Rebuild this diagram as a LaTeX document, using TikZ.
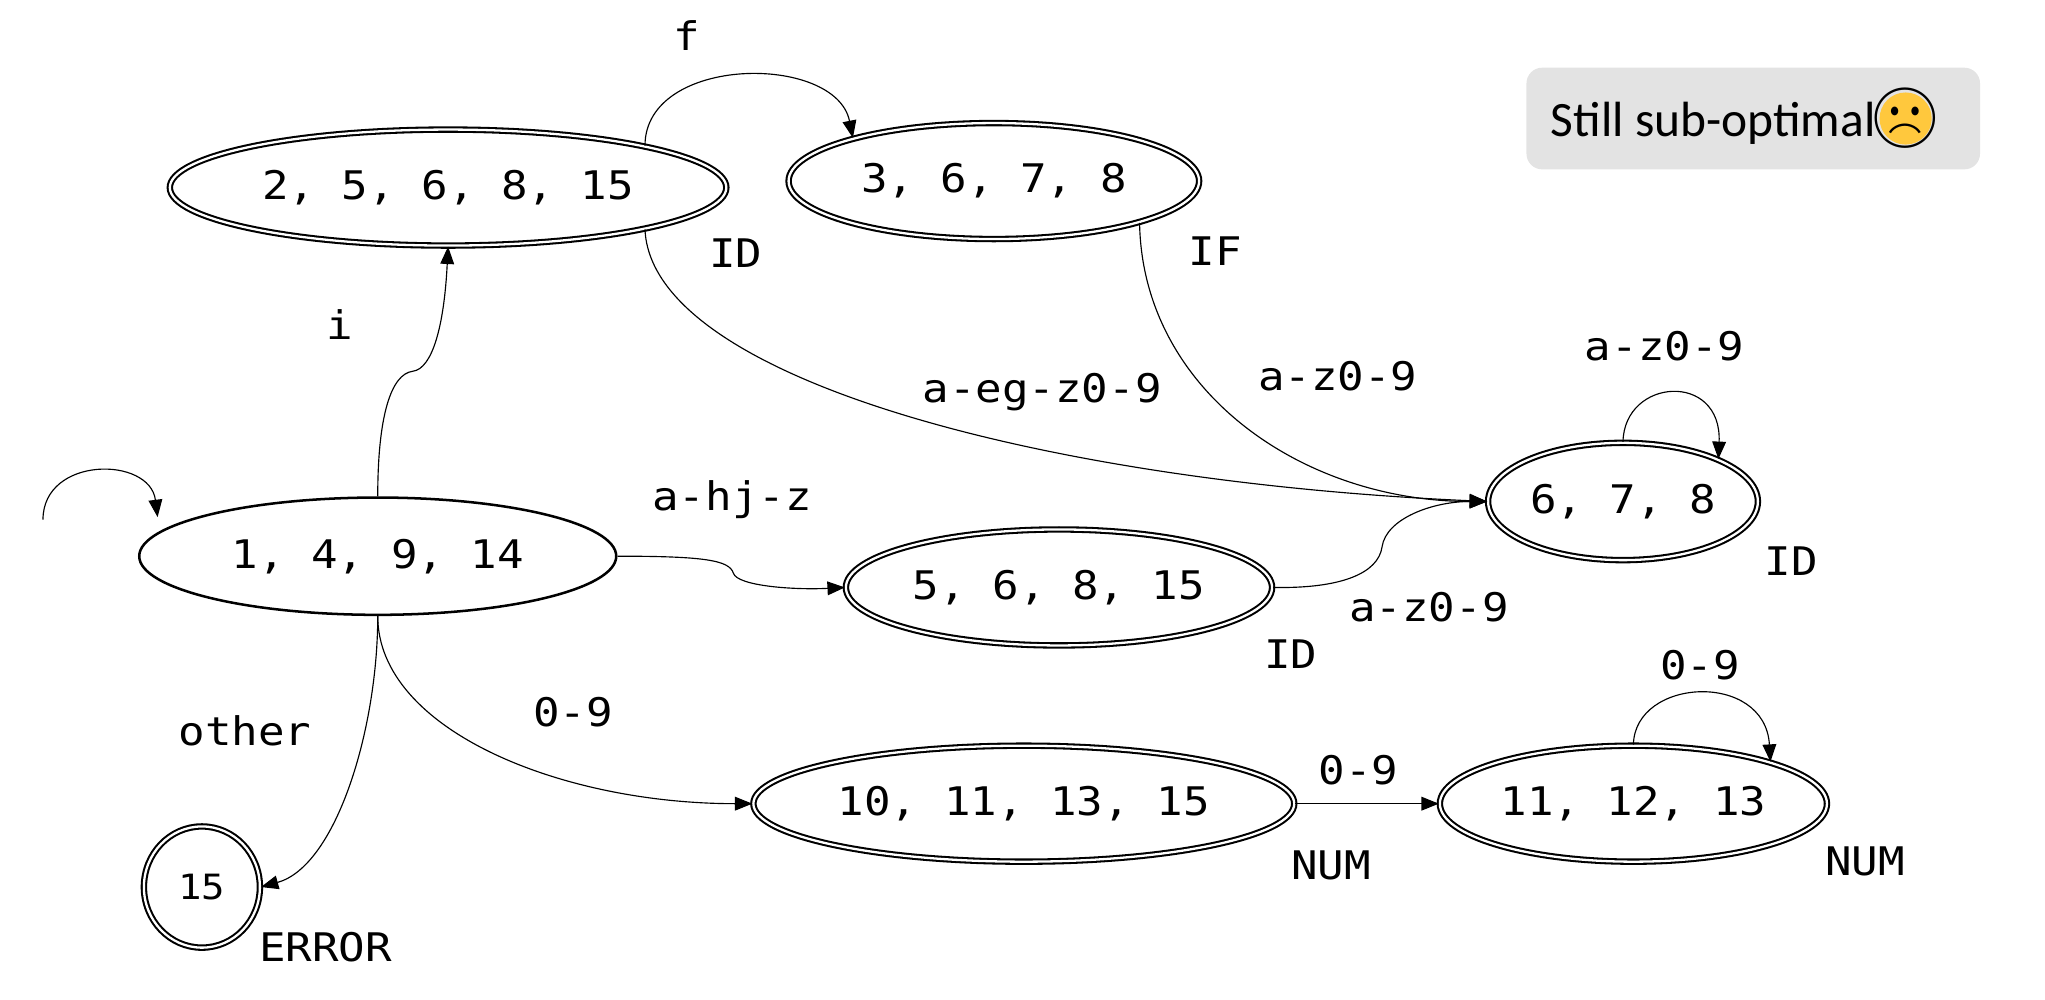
\documentclass[tikz,border=0pt]{standalone}
\usepackage{fontspec}
\setmainfont{Carlito}
\setmonofont[FakeStretch=1.12]{DejaVu Sans Mono}
\newfontfamily\emojifont{Noto Emoji}
\usetikzlibrary{shapes.geometric,arrows.meta}
\definecolor{notegray}{HTML}{E3E3E3}
\definecolor{emojiyellow}{HTML}{FFC83D}
\begin{document}
\begin{tikzpicture}[x=0.01cm,y=-0.01cm,
  statefont/.style={font=\ttfamily\fontsize{8.6}{10}\selectfont},
  state/.style={ellipse, draw, line width=0.45pt, inner sep=0pt, statefont},
  accept/.style={state, double, double distance=0.5pt},
  lbl/.style={statefont, inner sep=0pt, text height=6.27pt, text depth=0pt},
  edge/.style={line width=0.25pt, -{Triangle[length=3.8pt,width=3pt]}}]
\useasboundingbox (0,0) rectangle (1570,767);

% states
\node[accept, minimum width=4.27cm, minimum height=0.89cm] (A) at (344,144) {2, 5, 6, 8, 15};
\node[accept, minimum width=3.15cm, minimum height=0.89cm] (B) at (763,139) {3, 6, 7, 8};
\node[accept, minimum width=2.07cm, minimum height=0.90cm] (C) at (1246,385) {6, 7, 8};
\node[state, line width=0.55pt, minimum width=3.66cm, minimum height=0.90cm] (S) at (290,427) {1, 4, 9, 14};
\node[accept, minimum width=3.27cm, minimum height=0.89cm] (D) at (813,451) {5, 6, 8, 15};
\node[accept, minimum width=4.15cm, minimum height=0.89cm] (E) at (786,617) {10, 11, 13, 15};
\node[accept, minimum width=2.97cm, minimum height=0.89cm] (F) at (1254,617) {11, 12, 13};
\node[accept, minimum width=0.89cm, minimum height=0.93cm, font=\ttfamily\fontsize{7.6}{9}\selectfont] (G) at (155,681) {15};

% note box
\node[fill=notegray, rounded corners=0.12cm, minimum width=3.48cm, minimum height=0.78cm, inner sep=0pt] (notebox) at (1346,91) {};
\node[anchor=base west, font=\fontsize{10.8}{12}\selectfont, inner sep=0pt] (note) at (1190,105) {Still sub-optimal};
\node[circle, fill=emojiyellow, minimum size=0.40cm, inner sep=0pt] (emobg) at (1463,91) {};
\node[inner sep=0pt, font=\emojifont\fontsize{13}{13}\selectfont] (emo) at (emobg) {☹};

% connectors
\coordinate (init) at (33,399);
\coordinate (initend) at (121,397);
\draw[edge] (init) .. controls (33,350) and (115,350) .. (initend);
\draw[edge] (A.12) .. controls +(0,-70) and +(-13,-65) .. (B.163);
\draw[edge] (S.north) .. controls (290,320) and (300,287) .. (317,285) .. controls (332,283) and (341,250) .. (A.south);
\draw[edge] (A.-12) .. controls (500,290) and (800,370) .. (C.west);
\draw[edge] (B.-16) .. controls (877,300) and (1000,385) .. (C.west);
\draw[edge] (C.north) .. controls (1247,290) and (1322,285) .. (C.24);
\draw[edge] (S.east) .. controls (540,427) and (560,430) .. (563,440) .. controls (566,450) and (610,453) .. (D.west);
\draw[edge] (D.east) .. controls (1030,452) and (1058,440) .. (1061,420) .. controls (1064,398) and (1100,385) .. (C.west);
\draw[edge] (S.south) .. controls (290,560) and (258,665) .. (G.east);
\draw[edge] (S.south) .. controls (290,560) and (430,617) .. (E.west);
\draw[edge] (E.east) -- (F.west);
\draw[edge] (F.north) .. controls (1255,520) and (1355,515) .. (F.17);

% labels
\node[lbl] (lf) at (527,28) {f};
\node[lbl] (lidA) at (565,194) {ID};
\node[lbl] (lif) at (933,193) {IF};
\node[lbl] (li) at (261,250) {i};
\node[lbl] (laeg) at (800,298) {a-eg-z0-9};
\node[lbl] (lbc) at (1027,289) {a-z0-9};
\node[lbl] (lcc) at (1278,266) {a-z0-9};
\node[lbl] (lahj) at (562,381) {a-hj-z};
\node[lbl] (lidC) at (1375,431) {ID};
\node[lbl] (ldc) at (1097,466) {a-z0-9};
\node[lbl] (lidD) at (991,502) {ID};
\node[lbl] (lff) at (1305,511) {0-9};
\node[lbl] (lother) at (188,561) {other};
\node[lbl] (lse) at (440,547) {0-9};
\node[lbl] (lef) at (1043,591) {0-9};
\node[lbl] (lnumE) at (1022,664) {NUM};
\node[lbl] (lnumF) at (1432,661) {NUM};
\node[lbl] (lerr) at (250,727) {ERROR};
\end{tikzpicture}
\end{document}
